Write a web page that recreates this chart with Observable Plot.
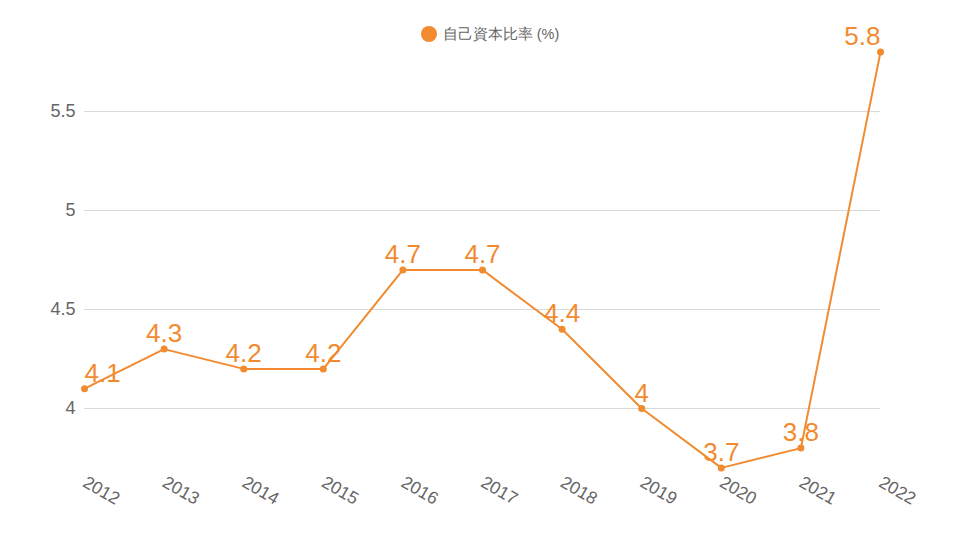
<!DOCTYPE html>
<html><head><meta charset="utf-8">
<script src="https://cdn.jsdelivr.net/npm/d3@7"></script>
<script src="https://cdn.jsdelivr.net/npm/@observablehq/plot@0.6"></script>
<style>
body{margin:0;background:#fff;font-family:"Liberation Sans",Arial,sans-serif;}
#wrap{position:relative;width:960px;height:540px;}
#legend{position:absolute;top:24px;left:10px;width:960px;text-align:center;font-size:14.5px;color:#666;line-height:20px;}
#legend span.dot{display:inline-block;width:16px;height:16px;border-radius:50%;background:#f28a30;vertical-align:-3px;margin-right:6px;}
</style></head>
<body><div id="wrap"><div id="legend"><span class="dot"></span>自己資本比率 (%)</div><div id="chart"></div></div>
<script>
const years = ["2012","2013","2014","2015","2016","2017","2018","2019","2020","2021","2022"];
const ratio = [4.1,4.3,4.2,4.2,4.7,4.7,4.4,4.0,3.7,3.8,5.8];
const yTicks = [4,4.5,5,5.5];
const seriesName = "自己資本比率 (%)";
const color = "#f28a30";
const data = years.map((y,i)=>({year:y, value:ratio[i], i}));
const n = data.length;
const labelOpts = {x:"year", y:"value", text:d=>String(d.value), fill:color, fontSize:26, lineAnchor:"bottom", dy:-7};
const chart = Plot.plot({
  width:960, height:540,
  marginTop:51.6, marginBottom:72.6, marginLeft:84, marginRight:80,
  style:{fontFamily:"Liberation Sans, Arial, sans-serif", background:"transparent", overflow:"visible"},
  x:{type:"point", domain:years, padding:0, round:false, label:null},
  y:{domain:[3.7,5.8], label:null},
  marks:[
    Plot.gridY(yTicks,{stroke:"#d9d9d9", strokeOpacity:1, strokeWidth:1}),
    Plot.axisY(yTicks,{tickSize:0, tickPadding:9, fontSize:18, fill:"#666", label:null, tickFormat:d=>String(d)}),
    Plot.axisX({tickSize:0, tickPadding:13, tickRotate:30, fontSize:17.5, fill:"#666", label:null}),
    Plot.line(data,{x:"year", y:"value", stroke:color, strokeWidth:2}),
    Plot.dot(data,{x:"year", y:"value", fill:color, r:3.5}),
    Plot.text(data.filter(d=>d.i===0),{...labelOpts, textAnchor:"start"}),
    Plot.text(data.filter(d=>d.i>0 && d.i<n-1),{...labelOpts, textAnchor:"middle"}),
    Plot.text(data.filter(d=>d.i===n-1),{...labelOpts, textAnchor:"end"})
  ]
});
document.getElementById("chart").appendChild(chart);
</script>
</body></html>
